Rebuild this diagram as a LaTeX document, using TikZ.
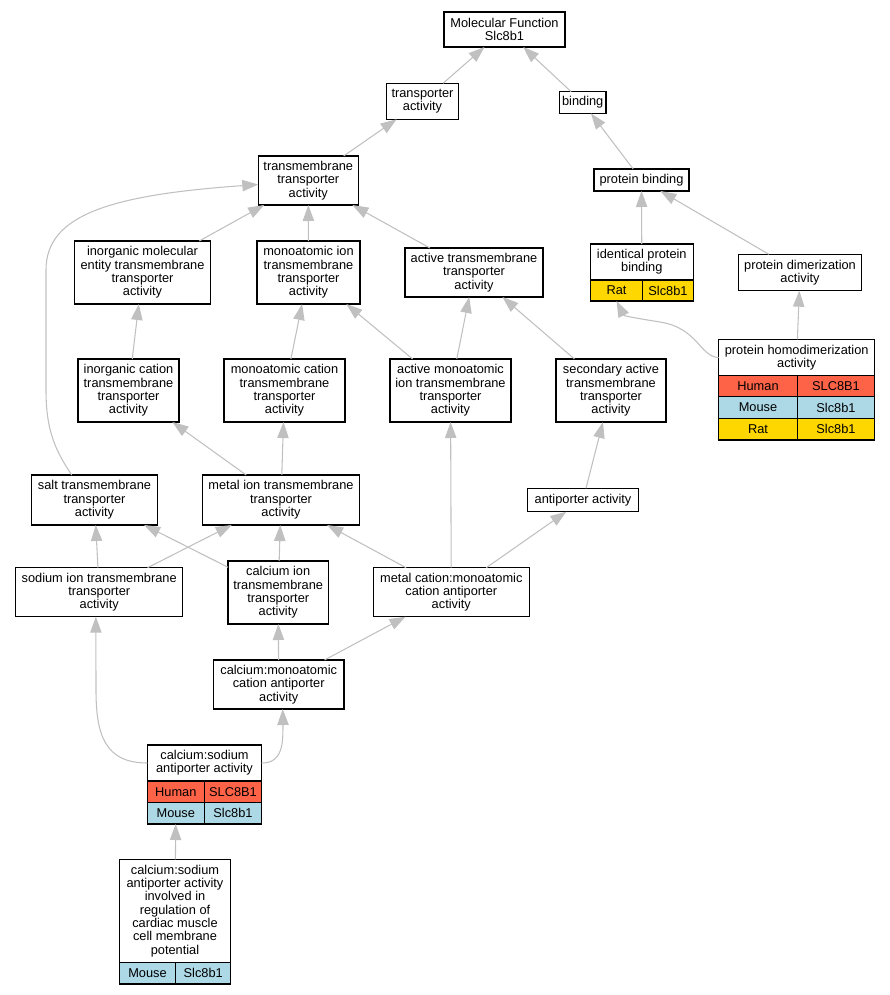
\documentclass[tikz,border=0pt]{standalone}
\usepackage{fontspec}
\setmainfont{Liberation Sans}
\usetikzlibrary{arrows.meta}
\definecolor{human}{HTML}{FF6347}
\definecolor{mouse}{HTML}{ADD8E6}
\definecolor{rat}{HTML}{FFD700}
\definecolor{edgegray}{HTML}{C0C0C0}

\begin{document}
\begin{tikzpicture}[x=0.75pt,y=-0.75pt,
  box/.style 2 args={draw, line width=1pt, inner sep=0pt, outer sep=0pt, align=center,
    minimum width=#1*0.75pt, minimum height=#2*0.75pt, font=\fontsize{9.6}{10}\selectfont},
  cell/.style 2 args={box={#1}{#2}, anchor=north west},
  edge/.style={draw=edgegray, line width=0.8pt, -{Triangle[length=12pt,width=8.5pt]}}]
\useasboundingbox (0,0) rectangle (889,995);
%Terms
\node[box={121}{35}] (mf) at (504.5,29.5) {Molecular Function\\Slc8b1};
\node[box={71.6}{36}] (ta) at (422.5,101.3) {transporter\\activity};
\node[box={46.7}{21.6}] (bind) at (582.7,102.5) {binding};
\node[box={100}{49}] (tmta) at (308.3,180.5) {transmembrane\\transporter\\activity};
\node[box={95}{22}] (pb) at (641.5,180) {protein binding};
\node[box={136.4}{63}] (imet) at (142.5,272.5) {inorganic molecular\\entity transmembrane\\transporter\\activity};
\node[box={103}{63}] (mita) at (308.5,272.5) {monoatomic ion\\transmembrane\\transporter\\activity};
\node[box={138}{49}] (atta) at (474,272.5) {active transmembrane\\transporter\\activity};
\node[box={103}{36}] (ipb) at (641.8,262) {identical protein\\binding};
\node[box={123.4}{36.4}] (pda) at (800,272.5) {protein dimerization\\activity};
\node[box={156}{36.4}] (phda) at (796.7,357.5) {protein homodimerization\\activity};
\node[box={101}{63}] (icta) at (128.5,390.5) {inorganic cation\\transmembrane\\transporter\\activity};
\node[box={121}{63}] (mcta) at (284.5,390.5) {monoatomic cation\\transmembrane\\transporter\\activity};
\node[box={121}{63}] (amita) at (450.5,390.5) {active monoatomic\\ion transmembrane\\transporter\\activity};
\node[box={110}{63}] (sata) at (611,390.5) {secondary active\\transmembrane\\transporter\\activity};
\node[box={125.6}{50}] (salt) at (94.5,500) {salt transmembrane\\transporter\\activity};
\node[box={156.6}{50}] (mita2) at (281,500) {metal ion transmembrane\\transporter\\activity};
\node[box={110.6}{23.4}] (apa) at (583,500) {antiporter activity};
\node[box={167}{49}] (sodium) at (99.2,592.2) {sodium ion transmembrane\\transporter\\activity};
\node[box={100.3}{63}] (calion) at (278.2,592.5) {calcium ion\\transmembrane\\transporter\\activity};
\node[box={156}{49}] (mcma) at (451.3,592.2) {metal cation:monoatomic\\cation antiporter\\activity};
\node[box={130.7}{49}] (cmca) at (278.7,684.5) {calcium:monoatomic\\cation antiporter\\activity};
\node[box={114.4}{36}] (csaa) at (204.5,763) {calcium:sodium\\antiporter activity};
\node[box={111.4}{103}] (csaacm) at (175,910.8) {calcium:sodium\\antiporter activity\\involved in\\regulation of\\cardiac muscle\\cell membrane\\potential};
%Species rows
\node[cell={52.4}{21}, fill=rat] (ipb-r1) at (ipb.south west) {Rat};
\node[cell={50.6}{21}, fill=rat] (ipb-r2) at (ipb-r1.north east) {Slc8b1};
\node[cell={78.6}{21}, fill=human] (phda-h1) at (phda.south west) {Human};
\node[cell={77.4}{21}, fill=human] (phda-h2) at (phda-h1.north east) {SLC8B1};
\node[cell={78.6}{21.6}, fill=mouse] (phda-m1) at (phda-h1.south west) {Mouse};
\node[cell={77.4}{21.6}, fill=mouse] (phda-m2) at (phda-m1.north east) {Slc8b1};
\node[cell={78.6}{21.7}, fill=rat] (phda-r1) at (phda-m1.south west) {Rat};
\node[cell={77.4}{21.7}, fill=rat] (phda-r2) at (phda-r1.north east) {Slc8b1};
\node[cell={57}{21.3}, fill=human] (csaa-h1) at (csaa.south west) {Human};
\node[cell={57.4}{21.3}, fill=human] (csaa-h2) at (csaa-h1.north east) {SLC8B1};
\node[cell={57}{21.7}, fill=mouse] (csaa-m1) at (csaa-h1.south west) {Mouse};
\node[cell={57.4}{21.7}, fill=mouse] (csaa-m2) at (csaa-m1.north east) {Slc8b1};
\node[cell={56.4}{21.7}, fill=mouse] (csaacm-m1) at (csaacm.south west) {Mouse};
\node[cell={55}{21.7}, fill=mouse] (csaacm-m2) at (csaacm-m1.north east) {Slc8b1};
%Edges
\draw[edge] (ta) -- (mf);
\draw[edge] (bind) -- (mf);
\draw[edge] (tmta) -- (ta);
\draw[edge] (pb) -- (bind);
\draw[edge] (imet) -- (tmta);
\draw[edge] (mita) -- (tmta);
\draw[edge] (atta) -- (tmta);
\draw[edge] ([xshift=30pt]salt.north west) .. controls (55,450) and (46,430) .. (46,390) -- (46,270)
  .. controls (46,215) and (110,195) .. ([yshift=-3pt]tmta.west);
\draw[edge] (ipb) -- (pb);
\draw[edge] (pda) -- (pb);
\draw[edge] (icta) -- (imet);
\draw[edge] (mcta) -- (mita);
\draw[edge] (amita) -- (mita);
\draw[edge] (amita) -- (atta);
\draw[edge] (sata) -- (atta);
\draw[edge] (phda) -- (pda);
\draw[edge] (phda.west) .. controls (700,357) and (698,328) .. (660,322)
  .. controls (635,318) and (624,316) .. (ipb-r1.south);
\draw[edge] (mita2) -- (icta);
\draw[edge] (mita2) -- (mcta);
\draw[edge] (apa) -- (sata);
\draw[edge] (sodium) -- (salt);
\draw[edge] (sodium) -- (mita2);
\draw[edge] (calion) -- (salt);
\draw[edge] (calion) -- (mita2);
\draw[edge] (mcma) -- (mita2);
\draw[edge] (mcma) -- (amita);
\draw[edge] (mcma) -- (apa);
\draw[edge] (cmca) -- (calion);
\draw[edge] (cmca) -- (mcma);
\draw[edge] (csaa.west) .. controls (105,763) and (96,735) .. (96,690) -- ([xshift=-2.5pt]sodium.south);
\draw[edge] (csaa.east) .. controls (282,763) and (283,745) .. (283,725) -- ([xshift=3pt]cmca.south);
\draw[edge] (csaacm) -- (csaa-m1);
\end{tikzpicture}
\end{document}
